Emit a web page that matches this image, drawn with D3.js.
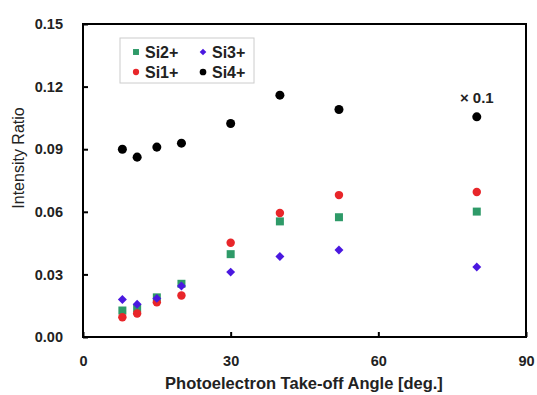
<!DOCTYPE html>
<html>
<head>
<meta charset="utf-8">
<script src="https://cdn.jsdelivr.net/npm/d3@7"></script>
<style>
  body { margin: 0; background: #fff; }
  text { font-family: "Liberation Sans", Arial, sans-serif; }
</style>
</head>
<body>
<div id="chart"></div>
<script>
const angles = [8, 11, 15, 20, 30, 40, 52, 80];
const si1 = [0.0095, 0.0113, 0.0166, 0.0199, 0.0452, 0.0594, 0.0680, 0.0695];
const si2 = [0.0127, 0.0138, 0.0190, 0.0255, 0.0397, 0.0554, 0.0574, 0.0601];
const si3 = [0.0180, 0.0157, 0.0185, 0.0244, 0.0311, 0.0386, 0.0417, 0.0335];
const si4 = [0.0900, 0.0862, 0.0910, 0.0929, 0.1023, 0.1159, 0.1090, 0.1055];
const xTicks = [0, 30, 60, 90];
const yTicks = [0, 0.03, 0.06, 0.09, 0.12, 0.15];

const W = 537, H = 395;
const margin = { top: 24, right: 11, bottom: 58, left: 83 };
const width = W - margin.left - margin.right;
const height = H - margin.top - margin.bottom;

const svg = d3.select('#chart').append('svg')
  .attr('width', W).attr('height', H);
const g = svg.append('g')
  .attr('transform', `translate(${margin.left},${margin.top})`);

const x = d3.scaleLinear().domain([0, 90]).range([0, width]);
const y = d3.scaleLinear().domain([0, 0.15]).range([height, 0]);

// axes, ticks inward
g.append('g')
  .attr('transform', `translate(0,${height})`)
  .call(d3.axisBottom(x).tickValues(xTicks).tickSize(-5).tickPadding(19).tickFormat(d3.format('d')))
  .call(a => a.select('.domain').remove())
  .call(a => a.selectAll('.tick line').attr('stroke', '#000').attr('stroke-width', 2))
  .call(a => a.selectAll('.tick text').attr('fill', '#222').style('font-size', '14.5px').style('font-weight', 'bold'));

g.append('g')
  .call(d3.axisLeft(y).tickValues(yTicks).tickSize(-5).tickPadding(20).tickFormat(d3.format('.2f')))
  .call(a => a.select('.domain').remove())
  .call(a => a.selectAll('.tick line').attr('stroke', '#000').attr('stroke-width', 2))
  .call(a => a.selectAll('.tick text').attr('fill', '#222').style('font-size', '14.5px').style('font-weight', 'bold'));

g.append('rect')
  .attr('width', width).attr('height', height)
  .attr('fill', 'none').attr('stroke', '#000').attr('stroke-width', 2);

// rotated square for the diamond marker
const diamond = {
  draw(ctx, size) {
    const r = Math.sqrt(size / 2);
    ctx.moveTo(0, -r); ctx.lineTo(r, 0); ctx.lineTo(0, r); ctx.lineTo(-r, 0); ctx.closePath();
  }
};

const series = [
  { name: 'Si2+', values: si2, color: '#2e9a68', shape: d3.symbolSquare, size: 64 },
  { name: 'Si3+', values: si3, color: '#4a18e0', shape: diamond, size: 40 },
  { name: 'Si1+', values: si1, color: '#e8262a', shape: d3.symbolCircle, size: 56 },
  { name: 'Si4+', values: si4, color: '#000000', shape: d3.symbolCircle, size: 64 }
];

const drawOrder = [series[3], series[0], series[2], series[1]];
drawOrder.forEach(s => {
  g.selectAll(null)
    .data(angles.map((a, i) => ({ a, v: s.values[i] })))
    .enter()
    .append('path')
    .attr('d', d3.symbol().type(s.shape).size(s.size))
    .attr('transform', d => `translate(${x(d.a)},${y(d.v)})`)
    .attr('fill', s.color);
});

g.append('text')
  .attr('x', x(80)).attr('y', y(0.1055) - 14)
  .attr('text-anchor', 'middle')
  .style('font-size', '15px').style('font-weight', 'bold').attr('fill', '#222')
  .text('× 0.1');

// legend
const leg = g.append('g').attr('transform', `translate(${120 - margin.left},${38 - margin.top})`);
leg.append('rect').attr('width', 134).attr('height', 45)
  .attr('fill', '#fff').attr('stroke', '#ccc').attr('stroke-width', 1);
series.forEach((s, i) => {
  const cx = 16 + (i % 2) * 67;
  const cy = 14 + Math.floor(i / 2) * 20;
  leg.append('path')
    .attr('d', d3.symbol().type(s.shape).size(s.size * 0.55))
    .attr('transform', `translate(${cx},${cy})`)
    .attr('fill', s.color);
  leg.append('text')
    .attr('x', cx + 9).attr('y', cy + 6)
    .style('font-size', '16px').style('font-weight', 'bold').attr('fill', '#222')
    .text(s.name);
});

svg.append('text')
  .attr('x', 304).attr('y', 389)
  .attr('text-anchor', 'middle')
  .style('font-size', '16.5px').style('font-weight', 'bold').attr('fill', '#222')
  .text('Photoelectron Take-off Angle [deg.]');

svg.append('text')
  .attr('transform', `translate(24,${158}) rotate(-90)`)
  .attr('text-anchor', 'middle')
  .style('font-size', '16px').attr('fill', '#222')
  .text('Intensity Ratio');
</script>
</body>
</html>
